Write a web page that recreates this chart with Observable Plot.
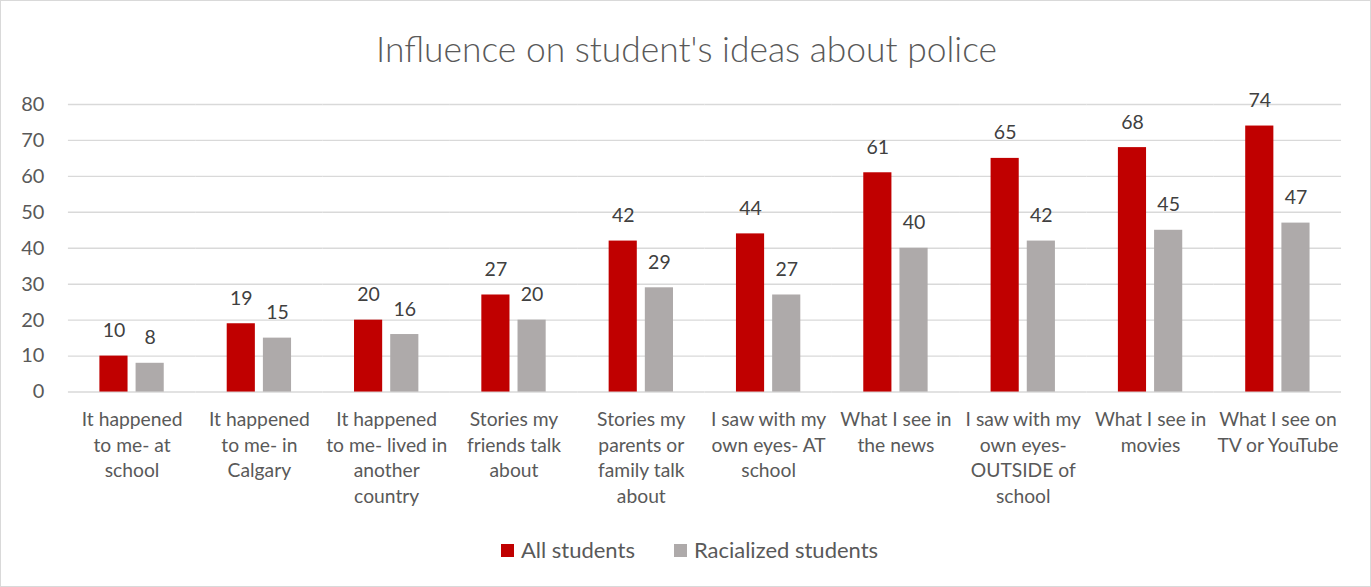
<!DOCTYPE html>
<html>
<head>
<meta charset="utf-8">
<script src="https://cdn.jsdelivr.net/npm/d3@7"></script>
<script src="https://cdn.jsdelivr.net/npm/@observablehq/plot@0.6"></script>
<style>
  body { margin: 0; background: #fff; }
  #wrap { position: relative; width: 1371px; height: 587px; box-sizing: border-box; border: 1px solid #d9d9d9; font-family: Lato, "Open Sans", sans-serif; color: #595959; overflow: hidden; }
  #title { position: absolute; left: 0; top: 26px; width: 1371px; text-align: center; font-size: 35.4px; font-weight: 300; line-height: 44px; }
  #chart { position: absolute; left: -1px; top: 84px; }
  #legend { position: absolute; left: 3px; top: 535px; width: 1371px; display: flex; justify-content: center; gap: 39px; font-size: 22px; line-height: 28px; }
  .item { display: flex; align-items: center; gap: 7px; }
  .sw { width: 13px; height: 13px; display: inline-block; }
</style>
</head>
<body>
<div id="wrap">
  <div id="title"></div>
  <div id="chart"></div>
  <div id="legend"></div>
</div>
<script>
const titleText = "Influence on student's ideas about police";
const categories = [
  "It happened to me- at school",
  "It happened to me- in Calgary",
  "It happened to me- lived in another country",
  "Stories my friends talk about",
  "Stories my parents or family talk about",
  "I saw with my own eyes- AT school",
  "What I see in the news",
  "I saw with my own eyes- OUTSIDE of school",
  "What I see in movies",
  "What I see on TV or YouTube"
];
const categoryLabels = [
  "It happened\nto me- at\nschool",
  "It happened\nto me- in\nCalgary",
  "It happened\nto me- lived in\nanother\ncountry",
  "Stories my\nfriends talk\nabout",
  "Stories my\nparents or\nfamily talk\nabout",
  "I saw with my\nown eyes- AT\nschool",
  "What I see in\nthe news",
  "I saw with my\nown eyes-\nOUTSIDE of\nschool",
  "What I see in\nmovies",
  "What I see on\nTV or YouTube"
];
const seriesNames = ["All students", "Racialized students"];
const allStudents = [10, 19, 20, 27, 42, 44, 61, 65, 68, 74];
const racializedStudents = [8, 15, 16, 20, 29, 27, 40, 42, 45, 47];
const seriesColors = ["#C00000", "#AEAAAA"];
const yTicks = [0, 10, 20, 30, 40, 50, 60, 70, 80];

const data = [];
categories.forEach((c, i) => {
  data.push({category: c, series: seriesNames[0], value: allStudents[i]});
  data.push({category: c, series: seriesNames[1], value: racializedStudents[i]});
});
const labelOf = new Map(categories.map((c, i) => [c, categoryLabels[i]]));

document.getElementById("title").textContent = titleText;

const chart = Plot.plot({
  width: 1372,
  height: 436,
  marginLeft: 68,
  marginRight: 29,
  marginTop: 19,
  marginBottom: 129,
  style: {fontFamily: "Lato, 'Open Sans', sans-serif", color: "#595959", background: "transparent"},
  fx: {domain: categories, padding: 0, round: false},
  x: {domain: seriesNames, paddingInner: 0.222, paddingOuter: 0.87, round: false, axis: null},
  y: {domain: [0, 80]},
  color: {domain: seriesNames, range: seriesColors},
  marks: [
    Plot.ruleY(yTicks, {stroke: "#d9d9d9", strokeWidth: 1.4}),
    Plot.barY(data, {fx: "category", x: "series", y: "value", fill: "series", inset: 0}),
    Plot.text(data, {fx: "category", x: "series", y: "value", text: d => String(d.value), lineAnchor: "bottom", dy: -19, fontSize: 19.5, fill: "#404040"}),
    Plot.axisY({ticks: yTicks, tickSize: 0, tickPadding: 24, fontSize: 20, fill: "#595959", label: null}),
    Plot.axisFx({anchor: "bottom", tickSize: 0, tickPadding: 16, fontSize: 19.3, lineHeight: 1.33, fill: "#595959", tickFormat: d => labelOf.get(d), label: null})
  ]
});
document.getElementById("chart").appendChild(chart);

const legend = document.getElementById("legend");
seriesNames.forEach((s, i) => {
  const item = document.createElement("div");
  item.className = "item";
  const sw = document.createElement("span");
  sw.className = "sw";
  sw.style.background = seriesColors[i];
  const t = document.createElement("span");
  t.textContent = s;
  item.appendChild(sw);
  item.appendChild(t);
  legend.appendChild(item);
});
</script>
</body>
</html>
